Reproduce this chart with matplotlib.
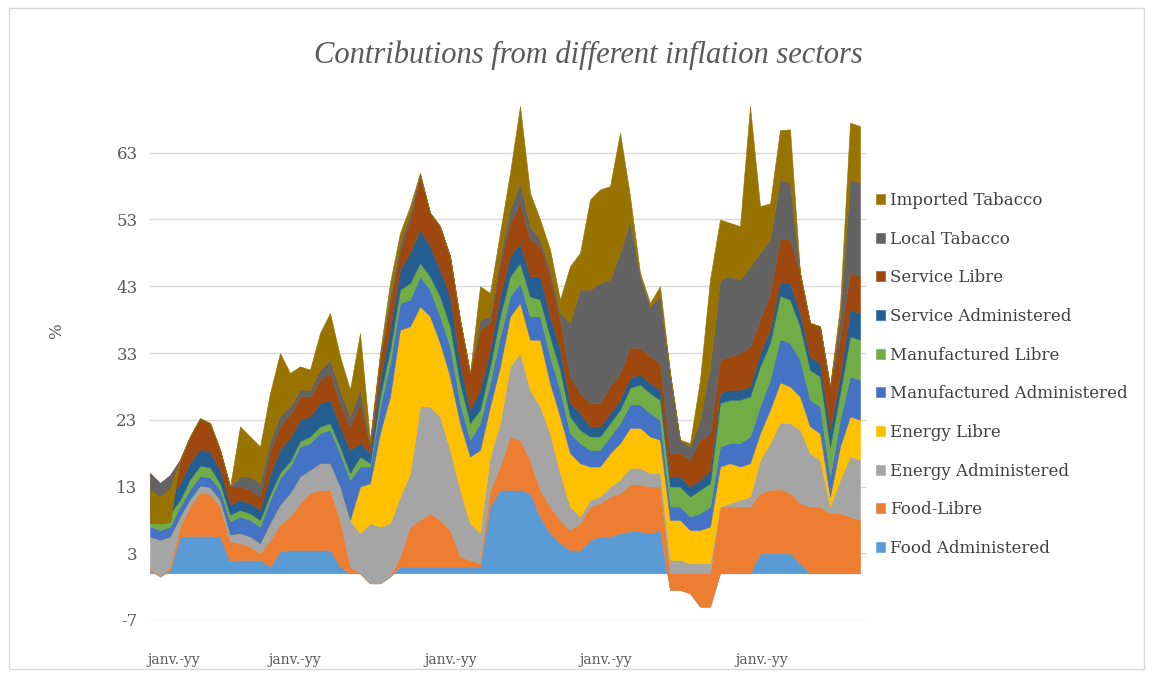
import numpy as np
import matplotlib
matplotlib.use("Agg")
import matplotlib.pyplot as plt
from matplotlib.patches import Rectangle

plt.rcParams['font.family'] = ['DejaVu Serif']
plt.rcParams['axes.unicode_minus'] = False

# monthly contributions by sector (percentage points)
food_adm = [0.5, -0.5, 0.5, 5.5, 5.6, 5.6, 5.6, 5.5, 1.8, 2,
            2, 2, 1, 3.3, 3.5, 3.5, 3.5, 3.5, 3.5, 1,
            0, 0, -1.5, -1.5, -0.5, 1, 1, 1, 1, 1,
            1, 1, 1, 1, 10, 12.5, 12.5, 12.5, 12, 8.5,
            6, 4.5, 3.5, 3.5, 5, 5.5, 5.5, 6, 6.3, 6.3,
            6, 6.5, -2.5, -2.5, -3, -5, -5, 0, 0, 0,
            0, 3, 3, 3, 3, 1.5, 0, 0, 0, 0,
            0, 0]
food_libre = [0.3, 0, 0.5, 1.5, 4.5, 6.5, 6.3, 4.5, 3, 2.5,
              2, 1, 4, 4, 5, 7, 8.5, 9, 9, 7,
              1, 0, 0, 0, 0, 1.5, 6, 7, 8, 7,
              5.5, 1.5, 1, 0.5, 2.5, 3.5, 8, 7.5, 5, 4,
              4, 3.5, 3, 4, 5, 5, 6, 6, 7, 7,
              7, 6.5, 2.5, 2.5, 3, 5, 5, 10, 10, 10,
              10, 9, 9.5, 9.6, 9, 9, 10, 10, 9, 9,
              8.5, 8]
energy_adm = [4.7, 5.5, 4.5, 1.5, 1, 1, 1, 1, 1, 1.5,
              1.5, 1.5, 2.5, 3, 3.5, 4, 3.5, 4, 4, 5,
              7, 6, 9, 8.5, 8, 9, 8, 17, 16, 15.5,
              12, 10, 5.5, 4.5, 5, 6.5, 10.5, 13, 10.5, 12.5,
              11, 7, 3.5, 1, 1, 1, 1.5, 2, 2.5, 2.5,
              2, 2, 2, 2, 1.5, 1.5, 1.5, 0, 0.5, 1,
              1.5, 5, 7, 10, 10.5, 11, 8, 7, 1, 5,
              9, 9]
energy_libre = [0, 0, 0, 0, 0, 0, 0, 0, 0, 0,
                0, 0, 0, 0, 0, 0, 0, 0, 0, 0,
                0, 7, 6, 14, 19, 25, 22, 15, 13.5, 11,
                11, 10, 10, 12.5, 7.5, 8.5, 7.5, 7.5, 7.5, 10,
                7.5, 8.5, 8, 8, 5, 4.5, 5, 5.5, 6, 6,
                5.5, 5, 6, 6, 5, 5, 5.5, 6, 6, 5,
                5, 4, 5, 6, 5.5, 5, 4, 4, 1.5, 5,
                6, 6]
manuf_adm = [1.5, 1.5, 1.5, 1.5, 1.5, 1.5, 1.5, 1.5, 2, 2.5,
             2.5, 2.5, 3.5, 4, 4, 4.5, 4, 4.5, 5, 5,
             6, 3, 2.5, 4, 5, 4, 4, 4.5, 4, 4,
             4.5, 3, 2.5, 4, 3.5, 4.5, 3, 3, 3.5, 3.5,
             4, 4, 3, 3, 2.5, 2.5, 2.5, 3, 3.5, 3.5,
             3.5, 3, 2, 2, 2, 2.5, 3, 3, 3, 3.5,
             4, 4, 4.5, 6.5, 6.5, 5.5, 4, 4, 3, 4,
             6, 6]
manuf_libre = [2, 2, 2, 1, 1.5, 1.5, 1.5, 1, 1, 1,
               1, 1, 0.8, 0.8, 0.8, 0.8, 1, 1, 1, 1,
               1, 1.5, 0.5, 1.5, 2, 2, 2.5, 2, 2, 3,
               3, 3, 2.5, 2, 2.5, 3, 3, 3, 3, 2.5,
               3, 3, 2.5, 2, 2, 2, 2, 2, 2.5, 3,
               3, 3, 3, 3, 3, 3.5, 3.5, 6.5, 6.5, 6.5,
               6, 6, 5.5, 6.5, 6.5, 5, 4.5, 4.5, 4.5, 4,
               6, 6]
service_adm = [2.5, 2, 2.5, 2.5, 2.5, 2.5, 2.3, 2, 1.5, 1.5,
               1.5, 1.5, 3, 3.5, 3.5, 3.2, 3, 3.5, 3.5, 3,
               3.5, 2, 1.5, 2.5, 3, 3, 4.5, 5, 4.5, 4,
               4.5, 3, 2, 3, 2.5, 3, 3, 3, 3, 3.5,
               3, 3, 2, 2.5, 1.5, 1.5, 1.5, 1.5, 1.5, 1.5,
               1.5, 1.5, 1.5, 1.5, 1.5, 1.5, 2, 1.5, 1.5, 1.5,
               1.5, 2, 2, 2, 2.5, 2, 2, 2, 2.5, 2.5,
               4, 4]
service_libre = [3.5, 3, 3.2, 3.5, 3.9, 4.6, 4.3, 3, 2.7, 2,
                 2, 2, 3.5, 3.5, 3.5, 3.5, 3, 3.5, 4, 3.5,
                 3.5, 6, 1, 3, 4, 3, 5, 8, 5, 6.5,
                 6, 6.5, 5.5, 9, 4, 5, 5, 6, 5.5, 4.5,
                 6, 4.5, 4, 3, 3.5, 3.5, 4, 4, 4.5, 4,
                 4, 4, 3.5, 3.5, 4, 6, 5.5, 5, 5, 5.5,
                 6, 5, 5.5, 6.5, 6.5, 6, 5, 5.5, 6.5, 6,
                 5.5, 5.5]
local_tab = [-7.5, -6, -7, 0, 0, 0, 0, 0, 0, 1.5,
             2, 2, 1.5, 1.5, 1.2, 1, 1, 1.5, 2, 2,
             1.5, 2, 0.5, 0.5, 1, 1, 1, 0.3, 0, 0,
             0, 0, 0, 1.5, 1, 1, 2, 3, 2, 1,
             1, 1, 8, 15.5, 17, 18, 16, 18, 19, 10.7,
             7.5, 10, 12, 2, 2, 3, 10, 12, 12, 11,
             12, 10, 8, 9, 8.5, 0, 0, 0, 0, 3,
             14, 14]
imported_tab = [5, 4, 5, 0, 0, 0, 0, 0, 0, 7.5,
                6, 5.5, 7.2, 9.4, 5, 3.5, 3, 5.5, 7, 5,
                4, 8.5, 0.5, 0.5, 2, 1.5, 1, 0.2, 0, 0,
                0, 0, 0, 5, 3.5, 3.5, 5.5, 11.5, 5, 3,
                3, 2, 8.5, 5.5, 13.5, 14, 14, 18, 3.7, 0.5,
                0.5, 1.5, 0, 0, 0.5, 6, 13, 9, 8, 8,
                24, 7, 5.4, 7.3, 8, 0, 0, 0, 0, 1.5,
                8.5, 8.5]

names = ["Food Administered", "Food-Libre", "Energy Administered",
         "Energy Libre", "Manufactured Administered", "Manufactured Libre",
         "Service Administered", "Service Libre", "Local Tabacco",
         "Imported Tabacco"]
colors = ['#5B9BD5', '#ED7D31', '#A5A5A5', '#FFC000', '#4472C4',
          '#70AD47', '#255E91', '#9E480E', '#636363', '#997300']
series = [food_adm, food_libre, energy_adm, energy_libre, manuf_adm,
          manuf_libre, service_adm, service_libre, local_tab, imported_tab]

x_ticks = [2.4, 14.5, 30.1, 45.6, 61.2]
x_labels = ["janv.-yy"] * len(x_ticks)

x = np.arange(len(food_adm))

fig = plt.figure(figsize=(11.53, 6.77), dpi=100)
fig.patches.append(Rectangle((0.008, 0.012), 0.984, 0.976, transform=fig.transFigure,
                             fill=False, edgecolor='#D9D9D9', lw=1))

ax = fig.add_axes([150 / 1153, 57 / 677, 717 / 1153, 534 / 677])
polys = ax.stackplot(x, *series, colors=colors, labels=names,
                     edgecolor='face', linewidth=0.4)

ax.set_xlim(0, 71.7)
ax.set_ylim(-7, 73)
ax.set_yticks(np.arange(-7, 64, 10))
ax.yaxis.grid(True, color='#D9D9D9', lw=1)
ax.set_axisbelow(True)
for s in ax.spines.values():
    s.set_visible(False)
ax.tick_params(length=0, colors='#595959')
ax.tick_params(axis='y', labelsize=12, pad=9)
ax.set_xticks(x_ticks)
ax.set_xticklabels(x_labels, fontsize=10)
ax.tick_params(axis='x', pad=24)

ax.set_ylabel('%', fontsize=12, color='#595959')
ax.yaxis.set_label_coords(-0.118, 0.54)

fig.text(0.51, 0.919, "Contributions from different inflation sectors",
         ha='center', va='center', fontsize=22, style='italic',
         family='Liberation Serif', color='#595959')

handles, labels = ax.get_legend_handles_labels()
leg = ax.legend(handles[::-1], labels[::-1], loc='upper left',
                bbox_to_anchor=(876 / 1153, 1 - 192 / 677),
                bbox_transform=fig.transFigure, frameon=False, fontsize=12,
                handlelength=0.55, handleheight=0.55, handletextpad=0.3,
                labelspacing=1.3, borderpad=0, borderaxespad=0)
for t in leg.get_texts():
    t.set_color('#404040')

fig.savefig('out.png', dpi=100)
